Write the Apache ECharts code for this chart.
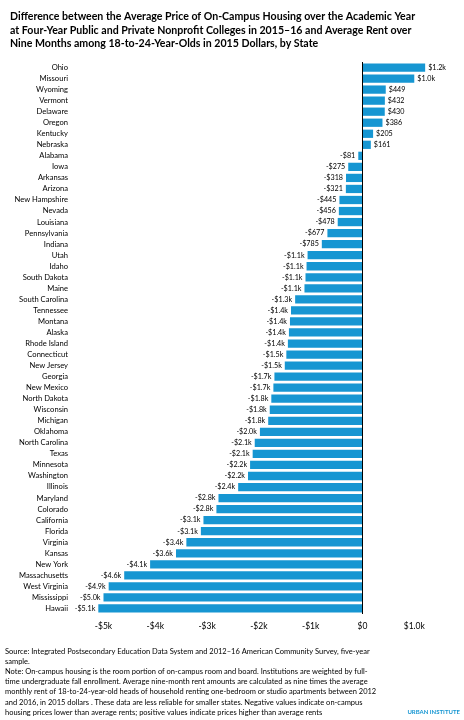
<!DOCTYPE html><html><head><meta charset="utf-8"><script src="https://cdn.jsdelivr.net/npm/echarts@6/dist/echarts.min.js"></script>
<style>body{margin:0}#c{width:464px;height:720px}</style></head><body><div id="c"></div><script>
const states=["Ohio","Missouri","Wyoming","Vermont","Delaware","Oregon","Kentucky","Nebraska","Alabama","Iowa","Arkansas","Arizona","New Hampshire","Nevada","Louisiana","Pennsylvania","Indiana","Utah","Idaho","South Dakota","Maine","South Carolina","Tennessee","Montana","Alaska","Rhode Island","Connecticut","New Jersey","Georgia","New Mexico","North Dakota","Wisconsin","Michigan","Oklahoma","North Carolina","Texas","Minnesota","Washington","Illinois","Maryland","Colorado","California","Florida","Virginia","Kansas","New York","Massachusetts","West Virginia","Mississippi","Hawaii"];
const values=[1210,1000,449,432,430,386,205,161,-81,-275,-318,-321,-445,-456,-478,-677,-785,-1060,-1080,-1100,-1120,-1300,-1380,-1400,-1420,-1440,-1470,-1500,-1700,-1720,-1760,-1790,-1820,-1980,-2080,-2120,-2170,-2210,-2400,-2780,-2820,-3070,-3120,-3400,-3600,-4100,-4600,-4900,-5000,-5100];
const tickValues=[-5000,-4000,-3000,-2000,-1000,0,1000];
function money(v){const a=Math.abs(v),s=v<0?'-':'';return a>=1000?s+'$'+(a/1000).toFixed(1)+'k':s+'$'+a;}
function tick(v){if(v===0)return '$0';if(v===1000)return '$1.0k';return '-$'+Math.abs(v/1000)+'k';}
const F='Lato, "Open Sans", sans-serif';
const c=echarts.init(document.getElementById('c'));
c.setOption({animation:false,
title:{text:'Difference between the Average Price of On-Campus Housing over the Academic Year\nat Four-Year Public and Private Nonprofit Colleges in 2015–16 and Average Rent over\nNine Months among 18-to-24-Year-Olds in 2015 Dollars, by State',left:5,top:5,textStyle:{fontFamily:F,fontSize:10.6,fontWeight:'bold',color:'#000',lineHeight:13.5}},
graphic:[{type:'text',left:5,top:646,style:{text:'Source: Integrated Postsecondary Education Data System and 2012–16 American Community Survey, five-year\nsample.\nNote: On-campus housing is the room portion of on-campus room and board. Institutions are weighted by full-\ntime undergraduate fall enrollment. Average nine-month rent amounts are calculated as nine times the average\nmonthly rent of 18-to-24-year-old heads of household renting one-bedroom or studio apartments between 2012\nand 2016, in 2015 dollars . These data are less reliable for smaller states. Negative values indicate on-campus\nhousing prices lower than average rents; positive values indicate prices higher than average rents',font:'7.5px '+F,lineHeight:10.2,fill:'#000'}},
{type:'text',right:4,top:709,style:{text:'URBAN INSTITUTE',font:'bold 6px '+F,fill:'#1696d2'}}],
grid:{left:75,right:29,top:62,bottom:106},
xAxis:{type:'value',min:-5550,max:1400,splitLine:{show:false},axisLine:{show:false},
axisTick:{show:false},axisLabel:{customValues:tickValues,formatter:tick,fontFamily:F,fontSize:8.5,color:'#000',margin:8}},
yAxis:{type:'category',data:states,inverse:true,axisTick:{show:false},axisLine:{show:false},
axisLabel:{fontFamily:F,fontSize:7.6,color:'#000',margin:7}},
series:[{type:'bar',data:values.map(v=>({value:v,label:{position:v<0?'left':'right'}})),barCategoryGap:'25%',itemStyle:{color:'#1696d2'},
label:{show:true,fontFamily:F,fontSize:7.2,color:'#000',formatter:p=>money(p.value),distance:3},
markLine:{silent:true,symbol:'none',label:{show:false},lineStyle:{color:'#000',type:'solid',width:1},data:[{xAxis:0}]}}]
});
</script></body></html>
